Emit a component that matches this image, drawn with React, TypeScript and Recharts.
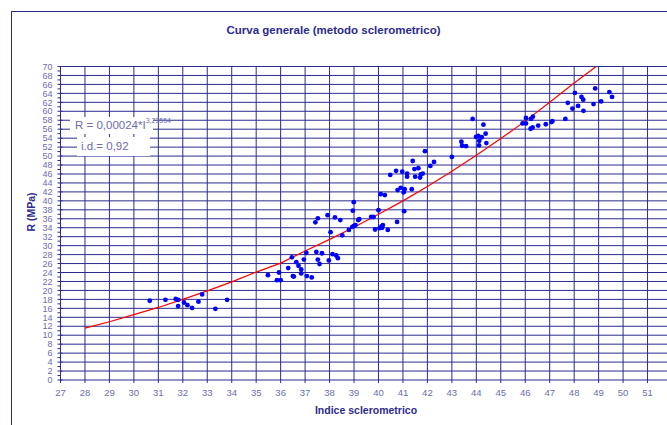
import { CartesianGrid, Scatter, ScatterChart, XAxis, YAxis } from 'recharts';

const X_TICKS = [27, 28, 29, 30, 31, 32, 33, 34, 35, 36, 37, 38, 39, 40, 41, 42, 43, 44, 45, 46, 47, 48, 49, 50, 51, 52];
const Y_TICKS = Array.from({ length: 71 }, (_, i) => i);
const Y_GRID = Y_TICKS.filter((v) => v % 2 === 0 && v > 0);

// indice sclerometrico / R (MPa)
const indice = [
  30.65, 31.29, 31.71, 31.81, 31.81, 32.05, 32.19, 32.38, 32.64, 32.79, 33.33, 33.81,
  35.48, 35.93, 35.85, 36.0, 36.31, 36.46, 36.5, 36.54, 36.64, 36.73, 36.84, 36.84, 36.95, 37.05, 37.07, 37.27,
  37.42, 37.52, 37.46, 37.52, 37.59, 37.69, 37.92, 38.04, 37.97, 38.12, 38.22, 38.27, 38.34, 38.44, 38.52, 38.79,
  38.95, 38.99, 38.93, 39.0, 39.06, 39.17, 39.21, 39.7, 39.8, 39.86, 40.0, 40.05, 40.12, 40.15, 40.18, 40.38,
  40.09, 40.26, 40.48, 40.76, 40.78, 40.72, 40.91, 40.97, 41.05, 41.03, 41.07, 41.17, 41.17, 41.36, 41.4, 41.47,
  41.5, 41.63, 41.7, 41.73, 41.81, 41.9, 42.12, 42.27, 43.0, 43.39, 43.42, 43.58, 43.85, 44.29, 43.99, 44.08,
  44.22, 44.38, 44.12, 44.11, 44.41, 45.89, 46.03, 46.03, 46.24, 46.31, 46.22, 46.3, 46.53, 46.84, 47.07, 47.11,
  47.64, 47.74, 47.93, 48.03, 48.16, 48.3, 48.37, 48.38, 48.79, 48.86, 49.1, 49.44, 49.55,
];
const resistenza = [
  17.7, 17.9, 18.1, 17.9, 16.5, 17.3, 16.7, 16.1, 17.5, 19.1, 15.9, 17.9,
  23.4, 24.0, 22.3, 22.3, 25.0, 27.4, 23.2, 23.1, 26.3, 25.5, 24.7, 23.8, 26.9, 28.4, 23.2, 22.9,
  35.2, 36.1, 28.6, 26.9, 25.9, 28.3, 36.8, 33.0, 26.7, 28.1, 36.3, 27.8, 27.2, 35.7, 32.3, 33.5,
  37.8, 39.7, 34.2, 34.4, 34.6, 35.7, 35.9, 36.4, 36.4, 33.6, 37.9, 33.9, 34.3, 34.0, 34.6, 33.5,
  41.5, 41.3, 45.8, 35.3, 42.4, 46.7, 42.9, 46.5, 37.7, 41.9, 42.6, 46.1, 45.4, 42.6, 48.9, 47.1,
  45.4, 47.3, 45.2, 45.9, 46.1, 51.1, 47.8, 48.7, 49.8, 53.2, 52.3, 52.2, 58.3, 57.0, 54.3, 54.5,
  54.2, 55.0, 53.4, 52.4, 52.9, 57.3, 58.5, 57.3, 58.3, 58.8, 56.1, 56.4, 56.8, 57.1, 57.6, 57.8,
  58.3, 61.9, 60.6, 64.1, 61.2, 63.2, 62.6, 60.1, 61.6, 65.1, 62.2, 64.3, 63.2,
];

// curva di regressione
const curvaX = [28, 29, 30, 31, 32, 33, 34, 35, 36, 37, 38, 39, 40, 41, 42, 43, 44, 45, 46, 47, 48, 48.9];
const curvaY = [11.6, 13.0, 14.6, 16.2, 18.0, 19.9, 21.9, 24.1, 26.1, 28.8, 31.4, 34.1, 37.0, 40.0, 43.2, 46.6, 50.2, 53.9, 57.8, 62.0, 66.3, 70.0];

const points = indice.map((x, i) => ({ x, y: resistenza[i] }));
const curve = curvaX.map((x, i) => ({ x, y: curvaY[i] }));

const NAVY = '#2b2b8f';
const TICK_TEXT = '#6d6db0';
const FONT = '"Liberation Sans Narrow", "Liberation Sans", Arial, sans-serif';

function XTick({ x, y, payload }: any) {
  return (
    <g>
      <line x1={x} x2={x} y1={y} y2={y + 3} stroke={NAVY} />
      <text x={x} y={y + 16} textAnchor="middle" fontSize={9.5} fill={TICK_TEXT} fontFamily={FONT}>
        {payload.value}
      </text>
    </g>
  );
}

function YTick({ x, y, payload }: any) {
  const major = payload.value % 2 === 0;
  return (
    <g>
      <line x1={x - 3} x2={major ? x + 2 : x} y1={y} y2={y} stroke={NAVY} />
      {major && (
        <text x={x - 8} y={y + 3.2} textAnchor="end" fontSize={9} fill={TICK_TEXT} fontFamily={FONT}>
          {payload.value}
        </text>
      )}
    </g>
  );
}

const Dot = ({ cx, cy }: any) => <circle cx={cx} cy={cy} r={2.4} fill="#0000ff" />;
const NoDot = () => <g />;

export default function App() {
  return (
    <div style={{ position: 'absolute', left: 0, top: 0, width: 667, height: 425, overflow: 'hidden', background: '#fff' }}>
      <div
        style={{
          position: 'absolute',
          left: 11,
          top: 11,
          width: 700,
          height: 460,
          borderLeft: `1.5px solid ${NAVY}`,
          borderTop: `1.5px solid ${NAVY}`,
        }}
      />
      <ScatterChart width={690} height={425} margin={{ top: 66.5, right: 18, bottom: 15, left: 20 }}>
        <CartesianGrid stroke={NAVY} strokeWidth={1} horizontalValues={Y_GRID} verticalValues={X_TICKS.slice(1)} />
        <XAxis
          type="number"
          dataKey="x"
          domain={[27, 52]}
          ticks={X_TICKS}
          interval={0}
          height={30}
          stroke={NAVY}
          tickSize={0}
          tickMargin={0}
          tick={<XTick />}
          allowDataOverflow
        />
        <YAxis
          type="number"
          dataKey="y"
          domain={[0, 70]}
          ticks={Y_TICKS}
          interval={0}
          width={40.5}
          stroke={NAVY}
          tickSize={0}
          tickMargin={0}
          tick={<YTick />}
          allowDataOverflow
        />
        <Scatter data={curve} line={{ stroke: '#ff0000', strokeWidth: 1.2 }} shape={NoDot} isAnimationActive={false} />
        <Scatter data={points} shape={Dot} isAnimationActive={false} />
      </ScatterChart>
      <div
        style={{
          position: 'absolute',
          left: 0,
          width: 667,
          top: 24,
          textAlign: 'center',
          fontFamily: FONT,
          fontWeight: 'bold',
          fontSize: 11.5,
          color: NAVY,
        }}
      >
        Curva generale (metodo sclerometrico)
      </div>
      <div
        style={{
          position: 'absolute',
          left: 270,
          width: 192,
          top: 404,
          textAlign: 'center',
          fontFamily: FONT,
          fontWeight: 'bold',
          fontSize: 10.5,
          color: NAVY,
        }}
      >
        Indice sclerometrico
      </div>
      <div
        style={{
          position: 'absolute',
          left: 31,
          top: 212,
          transform: 'translate(-50%, -50%) rotate(-90deg)',
          fontFamily: FONT,
          fontWeight: 'bold',
          fontSize: 10.5,
          color: NAVY,
          whiteSpace: 'nowrap',
        }}
      >
        R (MPa)
      </div>
      <div
        style={{
          position: 'absolute',
          left: 70,
          top: 117,
          width: 83,
          height: 17,
          background: '#fff',
          fontFamily: FONT,
          fontSize: 11.5,
          color: TICK_TEXT,
          lineHeight: '17px',
          paddingLeft: 5,
          boxSizing: 'border-box',
          whiteSpace: 'nowrap',
        }}
      >
        R = 0,00024*I<sup style={{ fontSize: 7, verticalAlign: 'top', lineHeight: '7px' }}>3,23554</sup>
      </div>
      <div
        style={{
          position: 'absolute',
          left: 77,
          top: 137,
          width: 73,
          height: 19,
          background: '#fff',
          fontFamily: FONT,
          fontSize: 11.5,
          color: TICK_TEXT,
          lineHeight: '19px',
          paddingLeft: 4,
          boxSizing: 'border-box',
          whiteSpace: 'nowrap',
        }}
      >
        i.d.= 0,92
      </div>
    </div>
  );
}
